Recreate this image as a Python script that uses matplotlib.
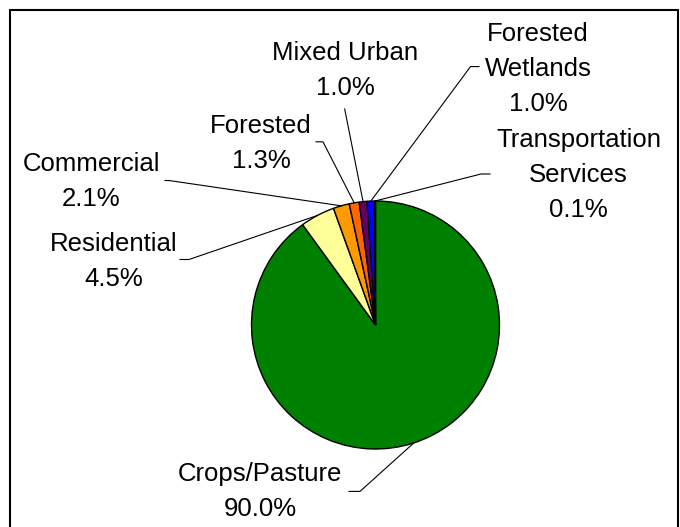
import numpy as np
import matplotlib.pyplot as plt
from matplotlib.patches import Rectangle

labels = ['Crops/Pasture', 'Residential', 'Commercial', 'Forested',
          'Mixed Urban', 'Forested\nWetlands', 'Transportation\nServices']
shares = [90.0, 4.5, 2.1, 1.3, 1.0, 1.0, 0.1]
colors = ['#008000', '#FFFF99', '#FF9900', '#FF6600', '#660066', '#0000FF', '#00CCFF']

H = 527
# label centre (x, y of block centre, image pixels) and end of the leader stub
label_pos = [(260, 491.5), (114, 261.5), (91, 181.5), (261, 143.5),
             (345, 70.5), (538, 69), (578.5, 175)]
stubs = [((360, 491.4), (349, 491.4)),
         ((189, 259.5), (180, 259.5)),
         ((169, 180.5), (165, 180.5)),
         ((323, 141.8), (316, 141.8)),
         ((344.7, 109), (344.7, 109)),
         ((470.5, 66.6), (479, 66.6)),
         ((481, 174), (490, 174))]

plt.rcParams['font.family'] = ['Liberation Sans', 'DejaVu Sans']

fig = plt.figure(figsize=(6.8, 5.27), dpi=100)
ax = fig.add_axes([0, 0, 1, 1])

cx, cy, r = 375.5, H - 325, 124
wedges, _ = ax.pie(shares, colors=colors, startangle=90, counterclock=False,
                   center=(cx, cy), radius=r, frame=True,
                   wedgeprops=dict(edgecolor='black', linewidth=1.0))
ax.set_xlim(0, 680)
ax.set_ylim(0, H)
ax.axis('off')

for w, lab, val, (tx, ty), (p1, p2) in zip(wedges, labels, shares, label_pos, stubs):
    mid = np.deg2rad((w.theta1 + w.theta2) / 2)
    ex, ey = cx + r * np.cos(mid), cy + r * np.sin(mid)
    ax.plot([ex, p1[0], p2[0]], [ey, H - p1[1], H - p2[1]], color='black', lw=0.8)
    ax.text(tx, H - ty, '%s\n%.1f%%' % (lab, val), ha='center', va='center',
            multialignment='center', fontsize=18.5, linespacing=1.6)

ax.add_patch(Rectangle((9.5, -20), 668, H - 10 + 20, fill=False,
                       edgecolor='black', linewidth=1.5, clip_on=False))

fig.savefig('out.png', dpi=100)
